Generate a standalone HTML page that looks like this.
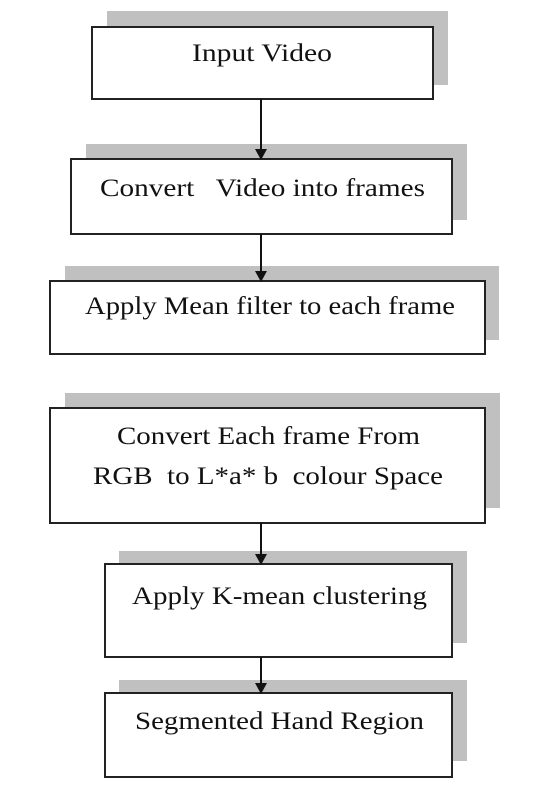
<!DOCTYPE html>
<html><head><meta charset="utf-8"><style>
html,body{margin:0;padding:0;background:#fff;width:559px;height:788px;overflow:hidden}
svg{display:block}
text{font-family:"Liberation Serif",serif;font-size:25px;fill:#111}
</style></head><body>
<svg width="559" height="788" viewBox="0 0 559 788" xmlns="http://www.w3.org/2000/svg">
<g fill="#c0c0c0">
<rect x="107" y="11" width="341" height="74"/>
<rect x="86" y="144" width="381" height="76"/>
<rect x="65" y="266" width="434" height="74"/>
<rect x="65" y="393" width="435" height="115"/>
<rect x="119" y="551" width="348" height="92"/>
<rect x="119" y="680" width="348" height="81"/>
</g>
<g fill="#fff" stroke="#222" stroke-width="2">
<rect x="92" y="27" width="341" height="72"/>
<rect x="71" y="159" width="381" height="75"/>
<rect x="50" y="281" width="435" height="73"/>
<rect x="50" y="408" width="435" height="115"/>
<rect x="105" y="564" width="347" height="93"/>
<rect x="105" y="693" width="347" height="84"/>
</g>
<g stroke="#111" stroke-width="2">
<line x1="261" y1="99" x2="261" y2="150"/>
<line x1="261" y1="234" x2="261" y2="272"/>
<line x1="261" y1="523" x2="261" y2="555"/>
<line x1="261" y1="657" x2="261" y2="684"/>
</g>
<g fill="#111">
<polygon points="255,149 267,149 261,160"/>
<polygon points="255,271 267,271 261,282"/>
<polygon points="255,554 267,554 261,565"/>
<polygon points="255,683 267,683 261,694"/>
</g>
<text x="192" y="61" textLength="140" lengthAdjust="spacingAndGlyphs">Input Video</text>
<text x="100" y="196" textLength="325" lengthAdjust="spacingAndGlyphs" xml:space="preserve">Convert   Video into frames</text>
<text x="85" y="314" textLength="370" lengthAdjust="spacingAndGlyphs">Apply Mean filter to each frame</text>
<text x="117" y="444" textLength="303" lengthAdjust="spacingAndGlyphs">Convert Each frame From</text>
<text x="93" y="484" textLength="350" lengthAdjust="spacingAndGlyphs" xml:space="preserve">RGB  to L*a* b  colour Space</text>
<text x="132" y="604" textLength="295" lengthAdjust="spacingAndGlyphs">Apply K-mean clustering</text>
<text x="135" y="729" textLength="289" lengthAdjust="spacingAndGlyphs">Segmented Hand Region</text>
</svg>
</body></html>
